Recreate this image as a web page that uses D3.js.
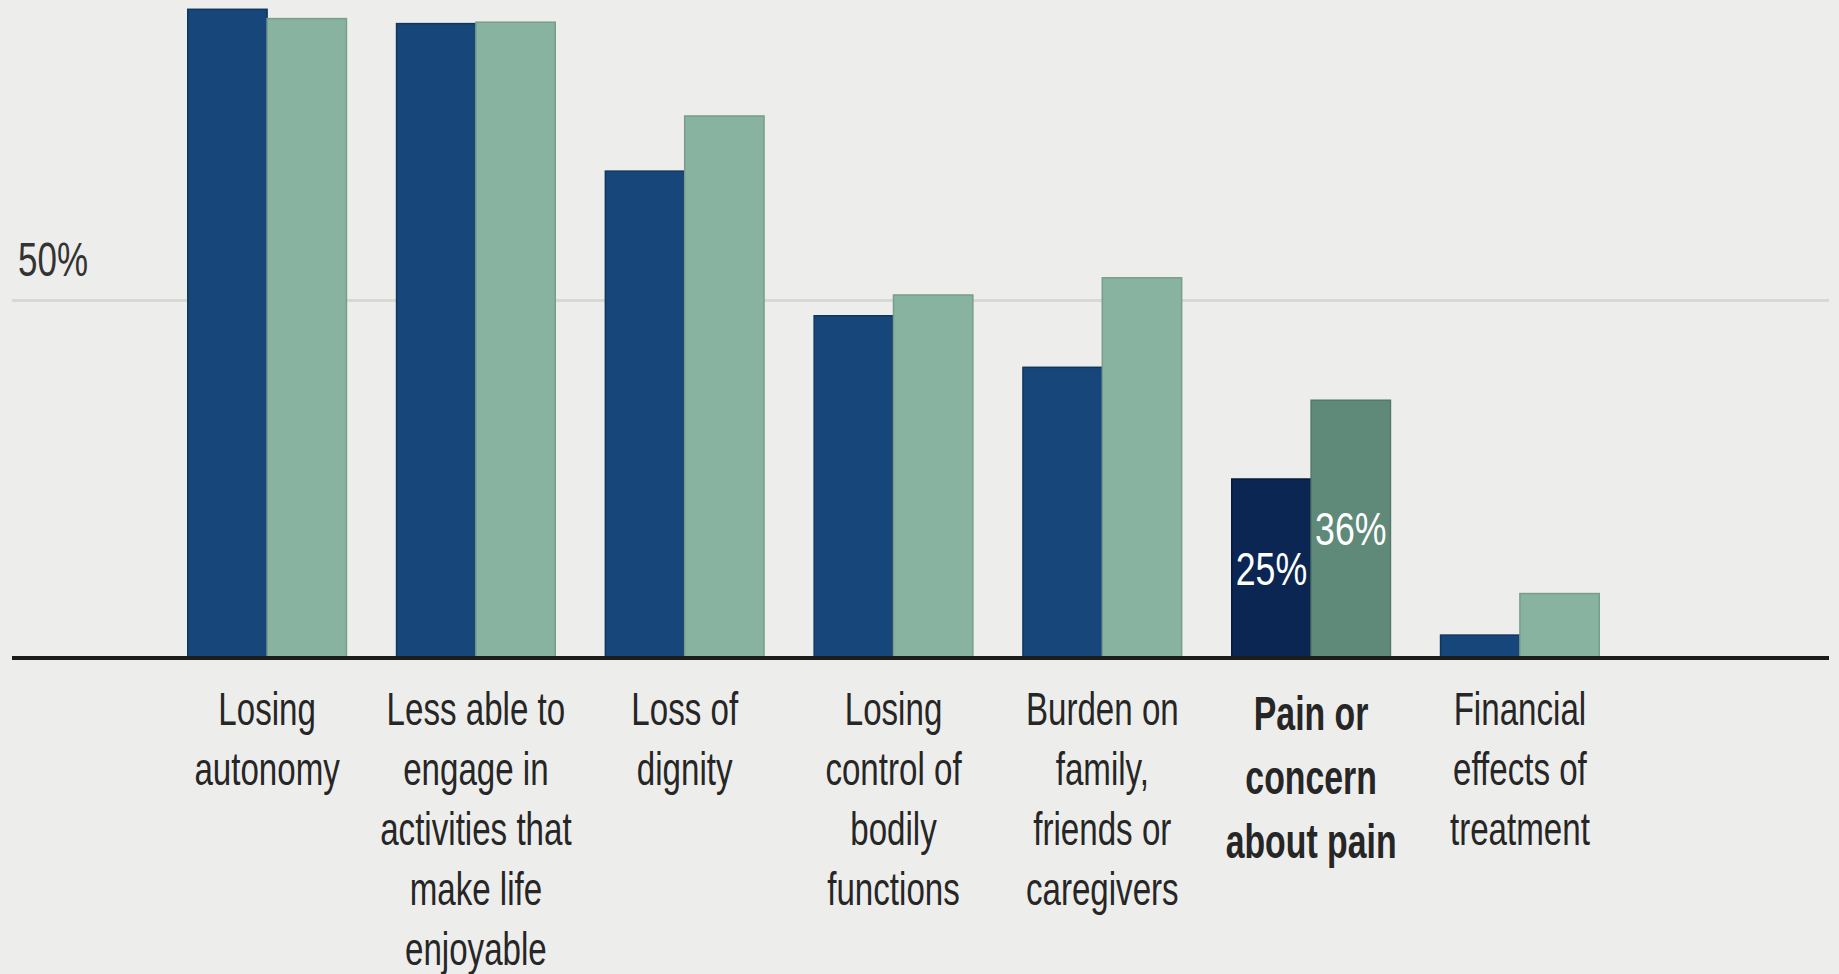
<!DOCTYPE html>
<html>
<head>
<meta charset="utf-8">
<script src="https://cdn.jsdelivr.net/npm/d3@7"></script>
<style>
  html, body { margin: 0; padding: 0; background: #ededeb; }
  svg { display: block; }
</style>
</head>
<body>
<svg id="chart"></svg>
<script>
// data (percent)
let categories = [
  'Losing autonomy',
  'Less able to engage in activities that make life enjoyable',
  'Loss of dignity',
  'Losing control of bodily functions',
  'Burden on family, friends or caregivers',
  'Pain or concern about pain',
  'Financial effects of treatment'
];
let labelLines = [
  ['Losing', 'autonomy'],
  ['Less able to', 'engage in', 'activities that', 'make life', 'enjoyable'],
  ['Loss of', 'dignity'],
  ['Losing', 'control of', 'bodily', 'functions'],
  ['Burden on', 'family,', 'friends or', 'caregivers'],
  ['Pain or', 'concern', 'about pain'],
  ['Financial', 'effects of', 'treatment']
];
let valuesA = [90.6, 88.6, 68.0, 47.8, 40.6, 25, 3.2];
let valuesB = [89.3, 88.8, 75.7, 50.7, 53.1, 36, 9.0];
let seriesKeys = ['a', 'b'];
let gridTicks = [50];
let highlight = 'Pain or concern about pain';

let width = 1839;
let height = 974;
let lineLeft = 12;
let lineRight = 1829;
let squeeze = 0.72;   // the type in the original is narrow

let colors = { a: '#17467a', b: '#88b3a1' };
let strokes = { a: '#0e375f', b: '#789d8e' };
let hiColors = { a: '#0b2652', b: '#5f8979' };
let hiStrokes = { a: '#061a3b', b: '#52796a' };

let rows = categories.map((c, i) => ({ cat: c, a: valuesA[i], b: valuesB[i] }));

let svg = d3.select('#chart').attr('width', width).attr('height', height)
  .style('background-color', '#ededeb')
  .style('font-family', '"Liberation Sans", Arial, Helvetica, sans-serif');

let x0 = d3.scaleBand().domain(categories).range([162.7, 1624.3])
  .paddingInner(0.24).paddingOuter(0.12);
let x1 = d3.scaleBand().domain(seriesKeys).range([0, x0.bandwidth()]);
let y = d3.scaleLinear().domain([0, 100]).range([658, -58]);

// gridline + 50% label
let yAxis = d3.axisLeft(y).tickValues(gridTicks)
  .tickSize(-(lineRight - lineLeft))
  .tickFormat(d => d + '%');
let gy = svg.append('g')
  .attr('transform', 'translate(' + lineLeft + ',0)')
  .call(yAxis);
gy.select('.domain').remove();
gy.selectAll('.tick line').attr('stroke', '#d8d8d5').attr('stroke-width', 3);
gy.selectAll('.tick text')
  .attr('x', 0).attr('dy', null)
  .attr('text-anchor', 'start')
  .attr('transform', 'translate(6,-25) scale(0.714,1)')
  .attr('fill', '#333')
  .style('font-size', '49px')
  .style('font-family', '"Liberation Sans", Arial, sans-serif');

// bars
let groups = svg.append('g').selectAll('g')
  .data(rows).enter().append('g')
  .attr('transform', d => 'translate(' + x0(d.cat) + ',0)');

groups.selectAll('rect')
  .data(d => seriesKeys.map(k => ({ key: k, value: d[k], cat: d.cat })))
  .enter().append('rect')
  .attr('x', d => x1(d.key))
  .attr('width', x1.bandwidth())
  .attr('y', d => y(d.value))
  .attr('height', d => y(0) - y(d.value))
  .attr('fill', d => d.cat === highlight ? hiColors[d.key] : colors[d.key])
  .attr('stroke', d => d.cat === highlight ? hiStrokes[d.key] : strokes[d.key])
  .attr('stroke-width', 1.5);

// value labels inside highlighted bars
groups.filter(d => d.cat === highlight).selectAll('text.val')
  .data(d => seriesKeys.map(k => ({ key: k, value: d[k] })))
  .enter().append('text')
  .attr('class', 'val')
  .attr('transform', d => 'translate(' + (x1(d.key) + x1.bandwidth() / 2) + ',' +
    ((y(d.value) + y(0)) / 2) + ') scale(0.76,1)')
  .attr('text-anchor', 'middle')
  .attr('dominant-baseline', 'central')
  .attr('fill', '#ffffff')
  .style('font-size', '47px')
  .text(d => Math.round(d.value) + '%');

// baseline
svg.append('line')
  .attr('x1', lineLeft).attr('x2', lineRight)
  .attr('y1', y(0)).attr('y2', y(0))
  .attr('stroke', '#1c1c1c').attr('stroke-width', 4);

// category labels
let xAxis = d3.axisBottom(x0).tickSize(0).tickFormat('');
let gx = svg.append('g')
  .attr('transform', 'translate(0,' + y(0) + ')')
  .call(xAxis);
gx.select('.domain').remove();
gx.selectAll('.tick text').remove();
gx.selectAll('.tick').each(function (cat, i) {
  let bold = cat === highlight;
  let t = d3.select(this).append('text')
    .attr('text-anchor', 'middle')
    .attr('fill', '#262626')
    .attr('transform', 'translate(0,' + (bold ? 72 : 67) + ') scale(' + (bold ? 0.69 : squeeze) + ',1)')
    .style('font-size', bold ? '49px' : '46px')
    .style('font-weight', bold ? 'bold' : 'normal')
    .style('font-family', '"Liberation Sans", Arial, sans-serif');
  labelLines[i].forEach((ln, j) => {
    t.append('tspan').attr('x', 0).attr('dy', j === 0 ? 0 : (bold ? 64 : 60)).text(ln);
  });
});
</script>
</body>
</html>
